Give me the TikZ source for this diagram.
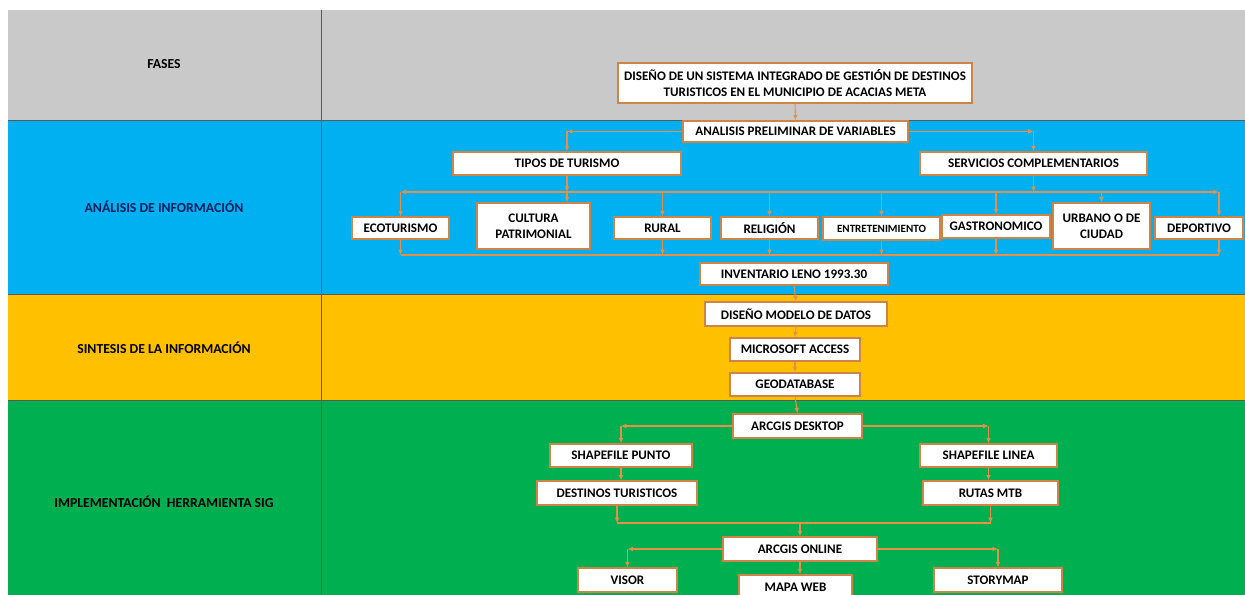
\documentclass[tikz,border=0pt]{standalone}
\usepackage{fontspec}
\setmainfont{Carlito}
\usetikzlibrary{arrows.meta}
\definecolor{gris}{RGB}{201,201,201}
\definecolor{azul}{RGB}{0,176,240}
\definecolor{amarillo}{RGB}{255,192,0}
\definecolor{verde}{RGB}{0,176,80}
\definecolor{bordecaja}{RGB}{204,132,72}
\definecolor{naranja}{RGB}{232,142,70}
\definecolor{marino}{RGB}{0,32,96}
\tikzset{
  caja/.style={draw=bordecaja, line width=1pt, fill=white, inner sep=1pt, align=center,
    font=\bfseries\fontsize{9.8}{12}\selectfont},
  linea/.style={draw=naranja, line width=0.8pt},
  flecha/.style={linea, -{Latex[length=4pt,width=3.5pt]}},
  fase/.style={font=\bfseries\fontsize{10.3}{12}\selectfont},
  separa/.style={draw=black!65, line width=0.6pt}
}
\begin{document}
\begin{tikzpicture}[x=0.75pt,y=-0.75pt]
    \clip (0,0) rectangle (1245,595);
    \fill[white] (0,0) rectangle (1245,595);
    \fill[gris] (8,10) rectangle (1245,120);
    \fill[azul] (8,120) rectangle (1245,294);
    \fill[amarillo] (8,294) rectangle (1245,400);
    \fill[verde] (8,400) rectangle (1245,600);
    \draw[separa] (8,120) -- (1245,120);
    \draw[separa] (8,294) -- (1245,294);
    \draw[separa] (8,400) -- (1245,400);
    \draw[separa] (321,10) -- (321,595);

    \node[fase] (fases) at (164,64) {FASES};
    \node[fase, text=marino] (analisisinfo) at (164,207) {ANÁLISIS DE INFORMACIÓN};
    \node[fase] (sintesis) at (164,348) {SINTESIS DE LA INFORMACIÓN};
    \node[fase] (implementacion) at (164,502) {IMPLEMENTACIÓN\ \ HERRAMIENTA SIG};

    \node[caja, minimum width=265.5pt, minimum height=30pt] (titulo) at (795,83)
      {DISEÑO DE UN SISTEMA INTEGRADO DE GESTIÓN DE DESTINOS\\TURISTICOS EN EL MUNICIPIO DE ACACIAS META};
    \node[caja, minimum width=168.75pt, minimum height=15.75pt] (analisis) at (795.5,131.5) {ANALISIS PRELIMINAR DE VARIABLES};
    \node[caja, minimum width=171pt, minimum height=17.25pt] (tipos) at (567,163.5) {TIPOS DE TURISMO};
    \node[caja, minimum width=170.25pt, minimum height=17.25pt] (servicios) at (1033.5,163.5) {SERVICIOS COMPLEMENTARIOS};

    \node[caja, minimum width=72.75pt, minimum height=16.5pt] (ecoturismo) at (400.5,228) {ECOTURISMO};
    \node[caja, minimum width=84.75pt, minimum height=34.5pt] (cultura) at (533.5,226) {CULTURA\\PATRIMONIAL};
    \node[caja, minimum width=72.75pt, minimum height=16.5pt] (rural) at (662.5,228) {RURAL};
    \node[caja, minimum width=72.75pt, minimum height=16.5pt] (religion) at (769.5,228) {RELIGIÓN};
    \node[caja, minimum width=87.75pt, minimum height=17.25pt, font=\bfseries\fontsize{8.3}{10}\selectfont] (entretenimiento) at (881.5,228.5) {ENTRETENIMIENTO};
    \node[caja, minimum width=81pt, minimum height=17.25pt] (gastronomico) at (996,226.5) {GASTRONOMICO};
    \node[caja, minimum width=72.75pt, minimum height=34.5pt] (urbano) at (1101.5,226) {URBANO O DE\\CIUDAD};
    \node[caja, minimum width=66pt, minimum height=16.5pt] (deportivo) at (1199,228) {DEPORTIVO};

    \node[caja, minimum width=141pt, minimum height=16.5pt] (inventario) at (794,274) {INVENTARIO LENO 1993.30};
    \node[caja, minimum width=136.5pt, minimum height=18pt] (diseno) at (796,314) {DISEÑO MODELO DE DATOS};
    \node[caja, minimum width=97.5pt, minimum height=17.25pt] (access) at (795,349.5) {MICROSOFT ACCESS};
    \node[caja, minimum width=97.5pt, minimum height=17.25pt] (geodatabase) at (795,384.5) {GEODATABASE};

    \node[caja, minimum width=96.75pt, minimum height=18pt] (desktop) at (797.5,426) {ARCGIS DESKTOP};
    \node[caja, minimum width=106.5pt, minimum height=17.25pt] (punto) at (621,455.5) {SHAPEFILE PUNTO};
    \node[caja, minimum width=102.75pt, minimum height=17.25pt] (shplinea) at (988.5,455.5) {SHAPEFILE LINEA};
    \node[caja, minimum width=120pt, minimum height=18pt] (destinos) at (617,493) {DESTINOS TURISTICOS};
    \node[caja, minimum width=101.25pt, minimum height=18pt] (rutas) at (990.5,493) {RUTAS MTB};
    \node[caja, minimum width=115.5pt, minimum height=18pt] (online) at (800,549) {ARCGIS ONLINE};
    \node[caja, minimum width=74.25pt, minimum height=18pt] (visor) at (627.5,580) {VISOR};
    \node[caja, minimum width=84.75pt, minimum height=18.75pt] (mapa) at (795.5,587.5) {MAPA WEB};
    \node[caja, minimum width=96pt, minimum height=18pt] (storymap) at (998,580) {STORYMAP};

    \draw[flecha] (titulo.south) -- (analisis.north);
    \draw[flecha] (analisis.west) -- (analisis.west -| tipos.north);
    \draw[flecha] (analisis.west -| tipos.north) -- (tipos.north);
    \draw[flecha] (analisis.east) -- (analisis.east -| servicios.north);
    \draw[flecha] (analisis.east -| servicios.north) -- (servicios.north);

    \coordinate (reparto) at (0,192);
    \coordinate (recogida) at (0,255);
    \coordinate (pdeportivo) at (1219,0);
    \draw[flecha] (tipos.south) -- (tipos.south |- reparto);
    \draw[flecha] (tipos.south |- reparto) -- (cultura.north -| tipos.south);
    \draw[flecha] (servicios.south) -- (servicios.south |- reparto);
    \draw[linea] (tipos.south |- reparto) -- (servicios.south |- reparto);
    \draw[flecha] (tipos.south |- reparto) -- (ecoturismo.north |- reparto);
    \draw[flecha] (servicios.south |- reparto) -- (pdeportivo |- reparto);
    \foreach \n in {ecoturismo,rural,religion,entretenimiento,gastronomico,urbano}
      \draw[flecha] (\n.north |- reparto) -- (\n.north);
    \draw[flecha] (pdeportivo |- reparto) -- (pdeportivo |- deportivo.north);

    \foreach \n in {ecoturismo,rural,religion,entretenimiento,gastronomico}
      \draw[flecha] (\n.south) -- (\n.south |- recogida);
    \draw[flecha] (pdeportivo |- deportivo.south) -- (pdeportivo |- recogida);
    \draw[linea] (ecoturismo.south |- recogida) -- (pdeportivo |- recogida);

    \draw[flecha] (inventario.south) -- (diseno.north);
    \draw[flecha] (diseno.south) -- (access.north);
    \draw[flecha] (access.south) -- (geodatabase.north);
    \draw[flecha] (geodatabase.south) -- (desktop.north);

    \draw[flecha] (desktop.west) -- (desktop.west -| punto.north);
    \draw[flecha] (desktop.west -| punto.north) -- (punto.north);
    \draw[flecha] (desktop.east) -- (desktop.east -| shplinea.north);
    \draw[flecha] (desktop.east -| shplinea.north) -- (shplinea.north);
    \draw[flecha] (punto.south) -- (punto.south |- destinos.north);
    \draw[flecha] (shplinea.south) -- (shplinea.south |- rutas.north);

    \coordinate (union) at (0,523);
    \draw[flecha] (destinos.south) -- (destinos.south |- union);
    \draw[flecha] (rutas.south) -- (rutas.south |- union);
    \draw[linea] (destinos.south |- union) -- (rutas.south |- union);
    \draw[flecha] (online.north |- union) -- (online.north);

    \draw[flecha] (online.west) -- (online.west -| visor.north);
    \draw[flecha] (online.west -| visor.north) -- (visor.north);
    \draw[flecha] (online.south) -- (online.south |- mapa.north);
    \draw[flecha] (online.east) -- (online.east -| storymap.north);
    \draw[flecha] (online.east -| storymap.north) -- (storymap.north);
\end{tikzpicture}
\end{document}
